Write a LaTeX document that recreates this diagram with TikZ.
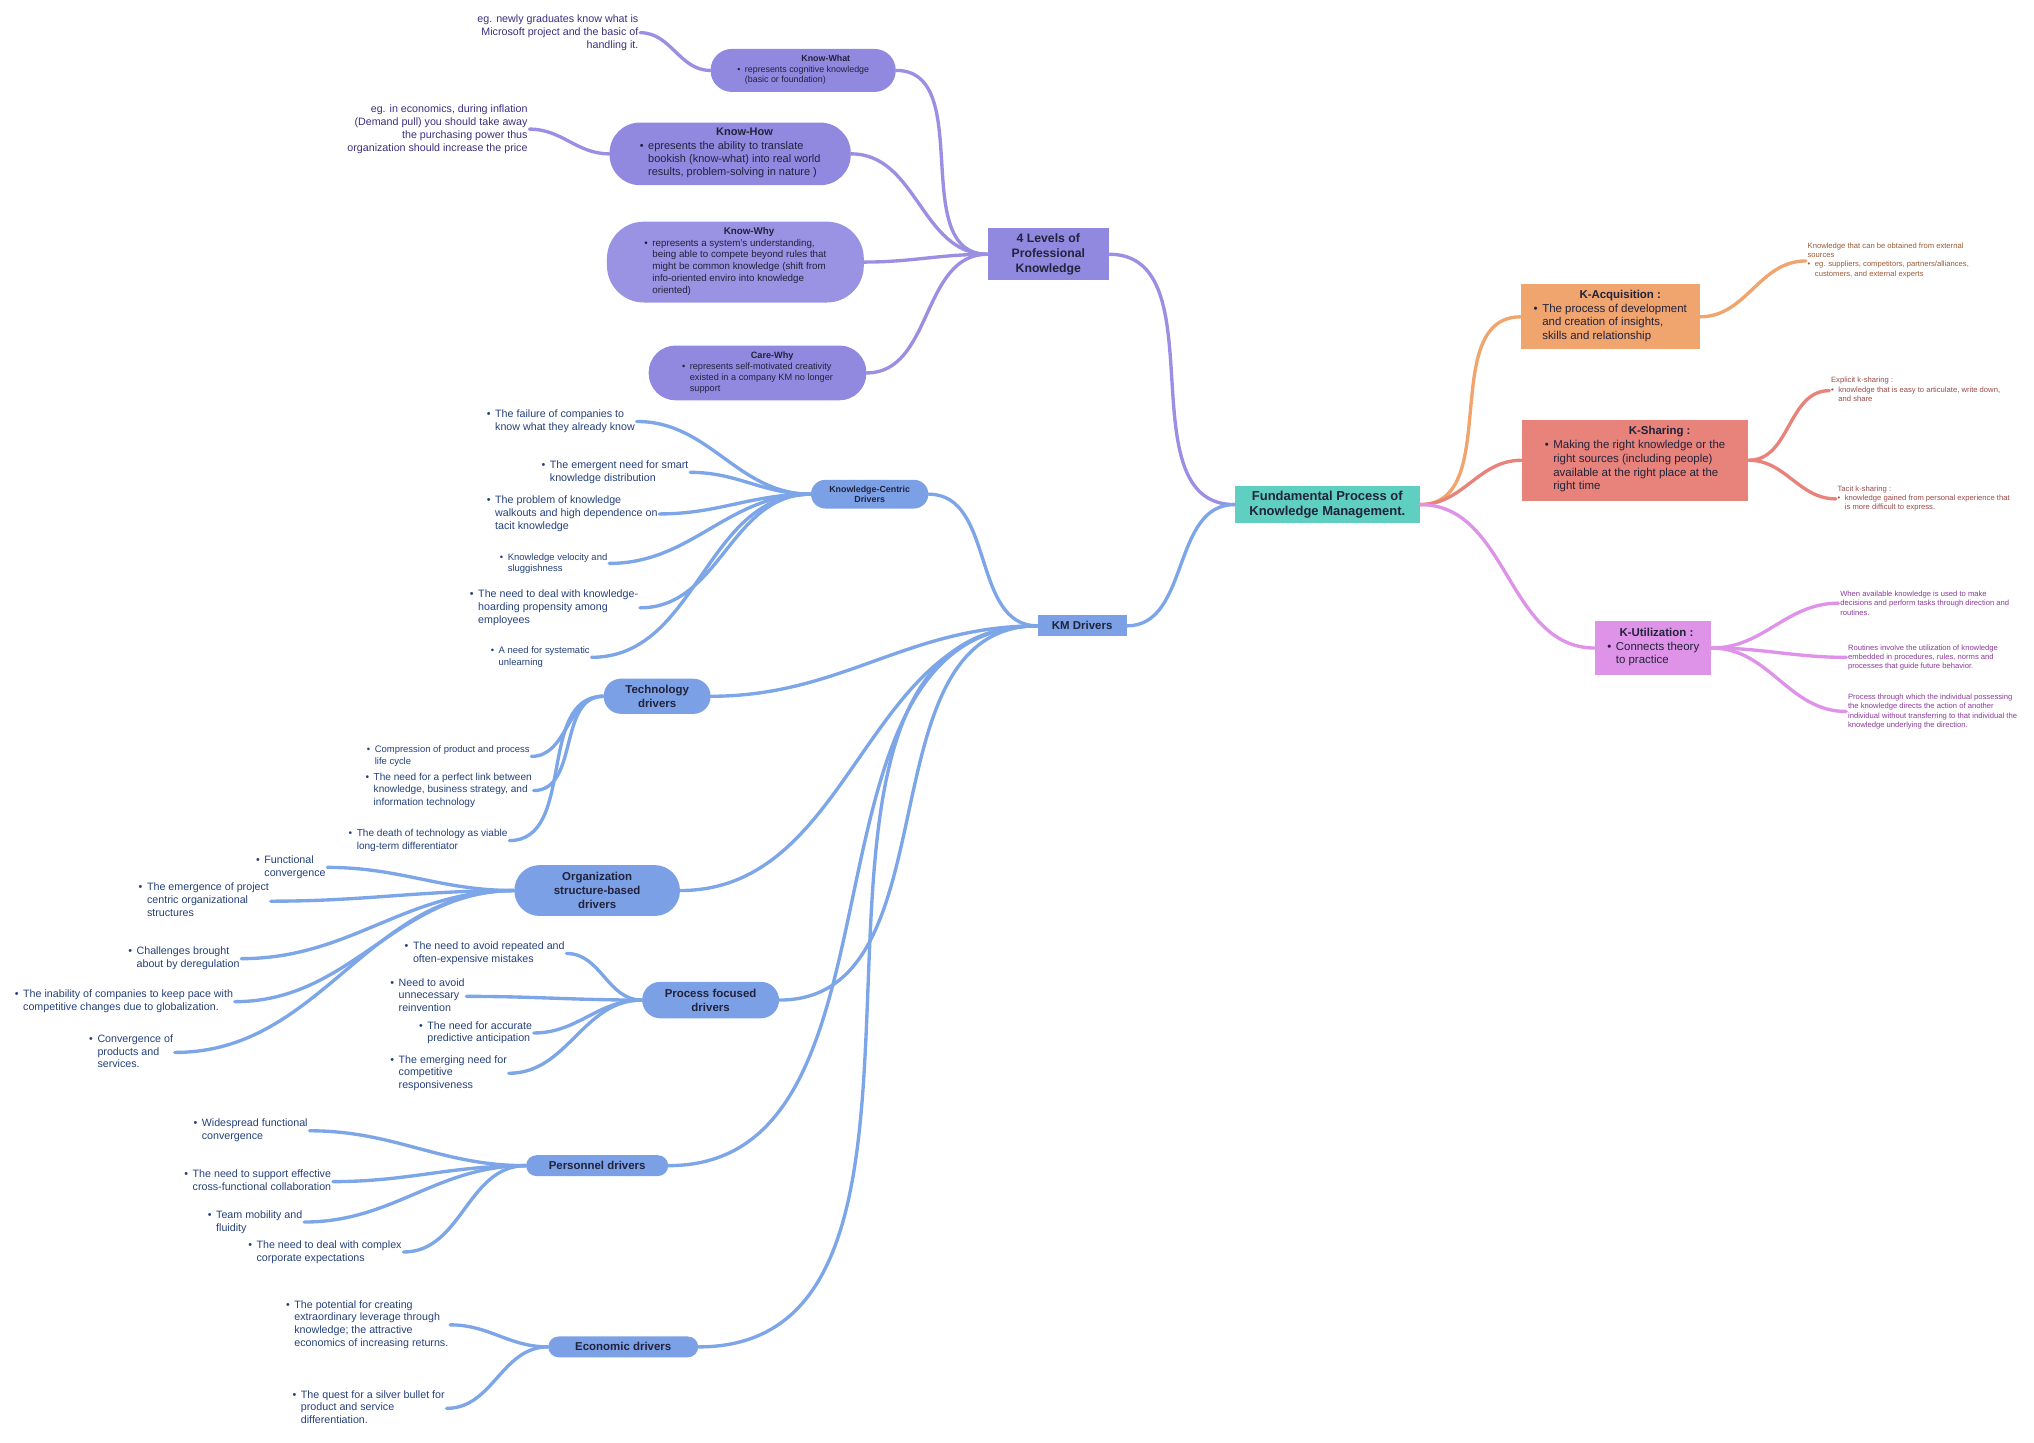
\documentclass[tikz,border=0pt]{standalone}
\usepackage{fontspec}
\setmainfont{Liberation Sans}
\usepackage{xcolor}
\definecolor{kmRoot}{HTML}{5ECFC0}
\definecolor{kmLevel}{HTML}{9189E0}
\definecolor{kmLevelEdge}{HTML}{9B8FE3}
\definecolor{kmDriver}{HTML}{7BA0E6}
\definecolor{kmDriverEdge}{HTML}{7DA6E8}
\definecolor{kmAcq}{HTML}{F0A46E}
\definecolor{kmShare}{HTML}{E8837C}
\definecolor{kmUtil}{HTML}{DE93E8}
\definecolor{kmInk}{HTML}{22223A}
\definecolor{kmNavy}{HTML}{24407A}
\definecolor{kmPurple}{HTML}{3A2F80}
\definecolor{kmBrown}{HTML}{9A5A36}
\definecolor{kmRed}{HTML}{9A4A4A}
\definecolor{kmViolet}{HTML}{8A3A9A}
\usepackage{tikz}
\usetikzlibrary{positioning,calc}
\newcommand\fsz[1]{\fontsize{#1}{\dimexpr #1*6/5\relax}\selectfont}
\newcommand\bl[1]{\textbullet\hspace{3pt}\begin{tabular}[t]{@{}l@{}}#1\end{tabular}}
\tikzset{
    box/.style={
        rectangle,
        align=left,
        inner sep=2pt,
        text=kmInk
    },
    pill/.style={
        box,
        rounded corners=#1
    },
    pill/.default=3mm,
    leaf/.style={
        anchor=north west,
        align=left,
        inner sep=1pt,
        text=kmNavy,
        font=\fsz{7pt}
    },
    edge/.style={
        line width=2.2pt,
        line cap=round
    }
}

\begin{document}
\begin{tikzpicture}[x=0.03cm,y=-0.03cm]
    \useasboundingbox (3,0) rectangle (1563,1106);

    % central topic
    \node[box, fill=kmRoot, minimum width=4.26cm, minimum height=0.84cm, align=center, font=\bfseries\fsz{8.5pt}] (root) at (1021,387) {Fundamental Process of\\Knowledge Management.};

    % right branches
    \node[box, fill=kmAcq, minimum width=4.11cm, minimum height=1.5cm, font=\fsz{7.5pt}] (acq) at (1238,243)
        {\hspace*{30pt}\textbf{K-Acquisition :}\\\bl{The process of development\\and creation of insights,\\skills and relationship}};
    \node[box, fill=kmShare, minimum width=5.22cm, minimum height=1.86cm, font=\fsz{7.5pt}] (share) at (1257,353)
        {\hspace*{55pt}\textbf{K-Sharing :}\\\bl{Making the right knowledge or the\\right sources (including people)\\available at the right place at the\\right time}};
    \node[box, fill=kmUtil, minimum width=2.67cm, minimum height=1.23cm, font=\fsz{7.5pt}] (util) at (1271,497)
        {\hspace*{8pt}\textbf{K-Utilization :}\\\bl{Connects theory\\to practice}};

    \node[leaf, text=kmBrown, font=\fsz{5pt}] (acq1) at (1388,185)
        {Knowledge that can be obtained from external\\sources\\\bl{eg. suppliers, competitors, partners/alliances,\\customers, and external experts}};
    \node[leaf, text=kmRed, font=\fsz{5pt}] (share1) at (1406,288)
        {Explicit k-sharing :\\\bl{knowledge that is easy to articulate, write down,\\and share}};
    \node[leaf, text=kmRed, font=\fsz{5pt}] (share2) at (1411,371)
        {Tacit k-sharing :\\\bl{knowledge gained from personal experience that\\is more difficult to express.}};
    \node[leaf, text=kmViolet, font=\fsz{5pt}] (util1) at (1413,452)
        {When available knowledge is used to make\\decisions and perform tasks through direction and\\routines.};
    \node[leaf, text=kmViolet, font=\fsz{5pt}] (util2) at (1419,493)
        {Routines involve the utilization of knowledge\\embedded in procedures, rules, norms and\\processes that guide future behavior.};
    \node[leaf, text=kmViolet, font=\fsz{5pt}] (util3) at (1419,531)
        {Process through which the individual possessing\\the knowledge directs the action of another\\individual without transferring to that individual the\\knowledge underlying the direction.};

    \draw[edge, kmAcq] (root.east) to[out=0,in=180] (acq.west);
    \draw[edge, kmShare] (root.east) to[out=0,in=180] (share.west);
    \draw[edge, kmUtil] (root.east) to[out=0,in=180] (util.west);
    \draw[edge, kmAcq] (acq.east) to[out=0,in=180] (acq1.west);
    \foreach \n in {share1,share2}
        \draw[edge, kmShare] (share.east) to[out=0,in=180] (\n.west);
    \foreach \n in {util1,util2,util3}
        \draw[edge, kmUtil] (util.east) to[out=0,in=180] (\n.west);

    % 4 levels of professional knowledge
    \node[box, fill=kmLevel, minimum width=2.79cm, minimum height=1.2cm, align=center, font=\bfseries\fsz{8pt}] (levels) at (807,195) {4 Levels of\\Professional\\Knowledge};
    \node[pill=4.9mm, fill=kmLevel, minimum width=4.26cm, minimum height=0.99cm, font=\fsz{5.8pt}] (what) at (619,54)
        {\hspace*{42pt}\textbf{Know-What}\\\bl{represents cognitive knowledge\\(basic or foundation)}};
    \node[pill=7mm, fill=kmLevel, minimum width=5.55cm, minimum height=1.44cm, font=\fsz{7.2pt}] (how) at (563,118)
        {\hspace*{50pt}\textbf{Know-How}\\\bl{epresents the ability to translate\\bookish (know-what) into real world\\results, problem-solving in nature )}};
    \node[pill=8.5mm, fill=kmLevel!92!white, minimum width=5.91cm, minimum height=1.86cm, font=\fsz{6.4pt}] (why) at (567,201)
        {\hspace*{52pt}\textbf{Know-Why}\\\bl{represents a system's understanding,\\being able to compete beyond rules that\\might be common knowledge (shift from\\info-oriented enviro into knowledge\\oriented)}};
    \node[pill=6.2mm, fill=kmLevel, minimum width=5.01cm, minimum height=1.26cm, font=\fsz{6pt}] (care) at (584,286)
        {\hspace*{45pt}\textbf{Care-Why}\\\bl{represents self-motivated creativity\\existed in a company KM no longer\\support}};
    \node[leaf, anchor=north east, align=right, text=kmPurple] (what1) at (494,10)
        {eg. newly graduates know what is\\Microsoft project and the basic of\\handling it.};
    \node[leaf, anchor=north east, align=right, text=kmPurple] (how1) at (409,79)
        {eg. in economics, during inflation\\(Demand pull) you should take away\\the purchasing power thus\\organization should increase the price};

    \draw[edge, kmLevelEdge] (levels.east) to[out=0,in=180] (root.west);
    \foreach \n in {what,how,why,care}
        \draw[edge, kmLevelEdge] (levels.west) to[out=180,in=0] (\n.east);
    \draw[edge, kmLevelEdge] (what.west) to[out=180,in=0] (what1.east);
    \draw[edge, kmLevelEdge] (how.west) to[out=180,in=0] (how1.east);

    % KM drivers
    \node[box, fill=kmDriver, minimum width=2.04cm, minimum height=0.48cm, align=center, font=\bfseries\fsz{7.5pt}] (drivers) at (833,480) {KM Drivers};
    \node[pill=3.3mm, fill=kmDriver, minimum width=2.7cm, minimum height=0.66cm, align=center, font=\bfseries\fsz{5.8pt}] (kc) at (670,379) {Knowledge-Centric\\Drivers};
    \node[pill=4mm, fill=kmDriver, minimum width=2.46cm, minimum height=0.81cm, align=center, font=\bfseries\fsz{7.5pt}] (tech) at (507,534) {Technology\\drivers};
    \node[pill=5.8mm, fill=kmDriver, minimum width=3.81cm, minimum height=1.17cm, align=center, font=\bfseries\fsz{7.5pt}] (org) at (461,683) {Organization\\structure-based\\drivers};
    \node[pill=4.2mm, fill=kmDriver, minimum width=3.15cm, minimum height=0.84cm, align=center, font=\bfseries\fsz{7.5pt}] (proc) at (548,767) {Process focused\\drivers};
    \node[pill=2.4mm, fill=kmDriver, minimum width=3.27cm, minimum height=0.48cm, align=center, font=\bfseries\fsz{7.5pt}] (pers) at (461,894) {Personnel drivers};
    \node[pill=2.4mm, fill=kmDriver, minimum width=3.45cm, minimum height=0.48cm, align=center, font=\bfseries\fsz{7.5pt}] (econ) at (481,1033) {Economic drivers};

    \draw[edge, kmDriverEdge] (drivers.east) to[out=0,in=180] (root.west);
    \foreach \n in {kc,tech,org,proc,pers,econ}
        \draw[edge, kmDriverEdge] (drivers.west) to[out=180,in=0] (\n.east);

    % knowledge-centric children
    \node[leaf] (kc1) at (375,312) {\bl{The failure of companies to\\know what they already know}};
    \node[leaf] (kc2) at (417,351) {\bl{The emergent need for smart\\knowledge distribution}};
    \node[leaf] (kc3) at (375,378) {\bl{The problem of knowledge\\walkouts and high dependence on\\tacit knowledge}};
    \node[leaf, font=\fsz{6.2pt}] (kc4) at (385,422) {\bl{Knowledge velocity and\\sluggishness}};
    \node[leaf] (kc5) at (362,450) {\bl{The need to deal with knowledge-\\hoarding propensity among\\employees}};
    \node[leaf, font=\fsz{6.2pt}] (kc6) at (378,494) {\bl{A need for systematic\\unlearning}};
    \foreach \n in {kc1,kc2,kc3,kc4,kc5,kc6}
        \draw[edge, kmDriverEdge] (kc.west) to[out=180,in=0] (\n.east);

    % technology children
    \node[leaf, font=\fsz{6.2pt}] (tech1) at (283,570) {\bl{Compression of product and process\\life cycle}};
    \node[leaf, font=\fsz{6.6pt}] (tech2) at (282,591) {\bl{The need for a perfect link between\\knowledge, business strategy, and\\information technology}};
    \node[leaf, font=\fsz{6.6pt}] (tech3) at (269,634) {\bl{The death of technology as viable\\long-term differentiator}};
    \foreach \n in {tech1,tech2,tech3}
        \draw[edge, kmDriverEdge] (tech.west) to[out=180,in=0] (\n.east);

    % organization children
    \node[leaf] (org1) at (198,654) {\bl{Functional\\convergence}};
    \node[leaf] (org2) at (108,675) {\bl{The emergence of project\\centric organizational\\structures}};
    \node[leaf] (org3) at (100,724) {\bl{Challenges brought\\about by deregulation}};
    \node[leaf] (org4) at (13,757) {\bl{The inability of companies to keep pace with\\competitive changes due to globalization.}};
    \node[leaf] (org5) at (70,791) {\bl{Convergence of\\products and\\services.}};
    \foreach \n in {org1,org2,org3,org4,org5}
        \draw[edge, kmDriverEdge] (org.west) to[out=180,in=0] (\n.east);

    % process children
    \node[leaf] (proc1) at (312,720) {\bl{The need to avoid repeated and\\often-expensive mistakes}};
    \node[leaf] (proc2) at (301,748) {\bl{Need to avoid\\unnecessary\\reinvention}};
    \node[leaf] (proc3) at (323,781) {\bl{The need for accurate\\predictive anticipation}};
    \node[leaf] (proc4) at (301,807) {\bl{The emerging need for\\competitive\\responsiveness}};
    \foreach \n in {proc1,proc2,proc3,proc4}
        \draw[edge, kmDriverEdge] (proc.west) to[out=180,in=0] (\n.east);

    % personnel children
    \node[leaf] (pers1) at (150,856) {\bl{Widespread functional\\convergence}};
    \node[leaf] (pers2) at (143,895) {\bl{The need to support effective\\cross-functional collaboration}};
    \node[leaf] (pers3) at (161,926) {\bl{Team mobility and\\fluidity}};
    \node[leaf] (pers4) at (192,949) {\bl{The need to deal with complex\\corporate expectations}};
    \foreach \n in {pers1,pers2,pers3,pers4}
        \draw[edge, kmDriverEdge] (pers.west) to[out=180,in=0] (\n.east);

    % economic children
    \node[leaf] (econ1) at (221,995) {\bl{The potential for creating\\extraordinary leverage through\\knowledge; the attractive\\economics of increasing returns.}};
    \node[leaf] (econ2) at (226,1064) {\bl{The quest for a silver bullet for\\product and service\\differentiation.}};
    \foreach \n in {econ1,econ2}
        \draw[edge, kmDriverEdge] (econ.west) to[out=180,in=0] (\n.east);
\end{tikzpicture}
\end{document}
